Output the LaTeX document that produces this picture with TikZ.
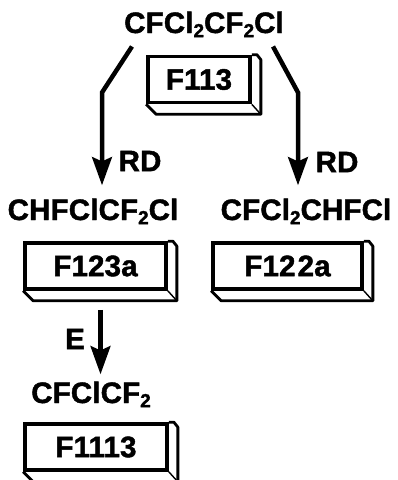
\documentclass[tikz,border=0pt]{standalone}
\usepackage{fontspec}
\setmainfont{Liberation Sans}[LetterSpace=0.5,BoldFeatures={FakeBold=1.5}]
\usetikzlibrary{arrows.meta}
\newcommand{\low}[1]{\raisebox{-3pt}{\fontsize{13.5}{13.5}\selectfont #1}}

\begin{document}
\begin{tikzpicture}[x=0.025cm,y=-0.025cm,
  chem/.style={inner sep=0pt,font=\fontsize{21}{21}\selectfont\bfseries},
  tag/.style={draw,line width=2.6pt,inner sep=0pt,minimum height=1.15cm,
    font=\fontsize{21}{21}\selectfont\bfseries},
  face/.style={line width=2pt,line join=round},
  arr/.style={-{Stealth[length=20pt,width=14pt,inset=3pt]},line width=3.2pt}]
\useasboundingbox (0,0) rectangle (398,480);

% compounds
\node[chem,anchor=base] (top)  at (204,33)  {CFCl\low{2}CF\low{2}Cl};
\node[chem,anchor=base] (chfc) at (93,220)  {CHFClCF\low{2}Cl};
\node[chem,anchor=base] (cfch) at (306,220) {CFCl\low{2}CHFCl};
\node[chem,anchor=base] (cfcf) at (91,403)  {CFClCF\low{2}};

% refrigerant tags
\node[tag,minimum width=2.55cm]  (f113)  at (199,79.5) {F113};
\node[tag,minimum width=3.525cm] (f123a) at (95.5,266) {F123a};
\node[tag,minimum width=3.725cm] (f122a) at (287.5,266) {F12\kern1.5pt 2a};
\node[tag,minimum width=3.55cm]  (f1113) at (96,447)   {F1113};
\foreach \t in {f113,f123a,f122a,f1113}{
  \draw[face] (\t.north east) -- ++(5,0) -- ++(4,5)
    -- ([shift={(9,10)}]\t.south east) -- ([shift={(10,10)}]\t.south west)
    -- (\t.south west);
  \draw[face,line width=1pt] (\t.south east) -- ++(9,10);
}

% reactions
\draw[arr] ([shift={(-72,9)}]top.south) -- ++(-30,46) coordinate (lk)
  -- ([shift={(0,-13)}]lk |- chfc.north);
\draw[arr] ([shift={(69,9)}]top.south) -- ++(25,46) coordinate (rk)
  -- ([shift={(0,-13)}]rk |- cfch.north);
\draw[arr] ([shift={(5,19)}]f123a.south) coordinate (ek)
  -- ([shift={(0,-7)}]ek |- cfcf.north);

\node[chem] (rd1) at (140,161) {RD};
\node[chem] (rd2) at (337,162) {RD};
\node[chem] (e)   at (75,339)  {E};
\end{tikzpicture}
\end{document}
